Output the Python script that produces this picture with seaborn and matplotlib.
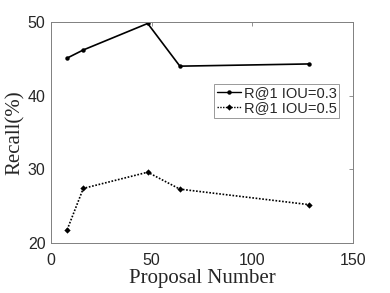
import matplotlib
matplotlib.use("Agg")
import matplotlib.pyplot as plt
import pandas as pd
import seaborn as sns

# data
proposals = [8, 16, 48, 64, 128]
recall_iou03 = [45.1, 46.2, 49.8, 44.0, 44.3]
recall_iou05 = [21.8, 27.4, 29.6, 27.3, 25.2]
series_names = ["R@1 IOU=0.3", "R@1 IOU=0.5"]

df = pd.DataFrame(
    {
        "Proposal Number": proposals * 2,
        "Recall": recall_iou03 + recall_iou05,
        "series": [series_names[0]] * len(proposals) + [series_names[1]] * len(proposals),
    }
)

sns.set_style("white")
plt.rcParams["font.family"] = ["Liberation Sans", "DejaVu Sans"]

fig = plt.figure(figsize=(3.9, 2.93), dpi=100)
ax = fig.add_axes([0.131, 0.171, 0.774, 0.754])

sns.lineplot(
    data=df,
    x="Proposal Number",
    y="Recall",
    hue="series",
    style="series",
    palette=["black", "black"],
    markers={series_names[0]: "o", series_names[1]: "D"},
    dashes={series_names[0]: "", series_names[1]: (1, 1)},
    markersize=3.2,
    markeredgewidth=0,
    linewidth=1.2,
    ax=ax,
)

ax.set_xlim(0, 150)
ax.set_ylim(20, 50)
ax.set_xticks([0, 50, 100, 150])
ax.set_yticks([20, 30, 40, 50])
ax.tick_params(direction="in", length=3, width=0.6, color="#808080",
               top=True, right=True, labelsize=11.5, labelcolor="#262626")
ax.tick_params(axis="x", pad=7)
ax.tick_params(axis="y", pad=4)
for s in ax.spines.values():
    s.set_visible(True)
    s.set_color("#808080")
    s.set_linewidth(0.7)

serif = ["Liberation Serif", "DejaVu Serif"]
ax.set_xlabel("Proposal Number", family=serif, fontsize=15, color="#262626", labelpad=1)
ax.set_ylabel("Recall(%)", family=serif, fontsize=15, color="#262626", labelpad=2)

leg = ax.legend(
    loc="upper right",
    bbox_to_anchor=(0.955, 0.72),
    fontsize=10.5,
    frameon=True,
    fancybox=False,
    handlelength=1.7,
    handletextpad=0.2,
    borderpad=0.15,
    labelspacing=0.1,
    borderaxespad=0,
)
leg.get_frame().set_edgecolor("#808080")
leg.get_frame().set_linewidth(0.7)
for h in leg.get_lines():
    h.set_linewidth(1.0)

fig.savefig("out.png", dpi=100)
